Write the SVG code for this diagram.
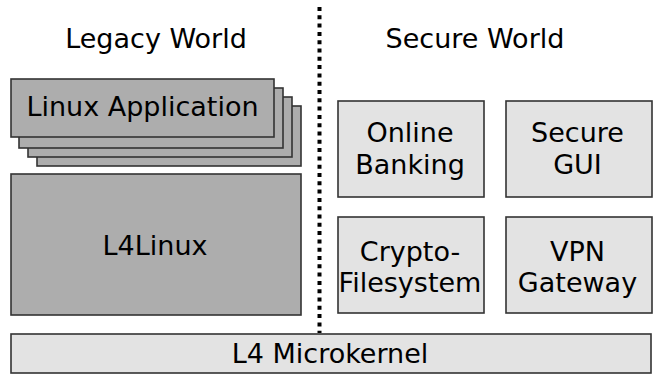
<svg xmlns="http://www.w3.org/2000/svg" width="653" height="375" viewBox="0 0 653 375">
<style>
.dark{fill:#adadad;stroke:#333;stroke-width:1.6}
.light{fill:#e3e3e3;stroke:#333;stroke-width:1.6}
text{font-family:"DejaVu Sans",sans-serif;font-size:27px;fill:#000;text-anchor:middle}
</style>
<rect width="653" height="375" fill="#fff"/>
<g id="labels">
<text x="156" y="48">Legacy World</text>
<text x="475" y="48">Secure World</text>
</g>
<g id="connectors">
<line x1="319.5" y1="7" x2="319.5" y2="333" stroke="#000" stroke-width="4" stroke-dasharray="4 4.3"/>
</g>
<g id="linux-app">
<rect class="dark" x="37" y="106" width="264" height="60"/>
<rect class="dark" x="28" y="97" width="264" height="60"/>
<rect class="dark" x="19" y="88" width="264" height="60"/>
<rect class="dark" x="11" y="79" width="263" height="58"/>
<text x="142.5" y="116">Linux Application</text>
</g>
<g id="l4linux">
<rect class="dark" x="11" y="174" width="290" height="141"/>
<text x="155" y="255">L4Linux</text>
</g>
<g id="online-banking">
<rect class="light" x="338" y="101" width="146" height="96"/>
<text x="410" y="141.5">Online</text>
<text x="410" y="173.5">Banking</text>
</g>
<g id="secure-gui">
<rect class="light" x="506" y="101" width="146" height="96"/>
<text x="577.5" y="141.5">Secure</text>
<text x="577.5" y="173.5">GUI</text>
</g>
<g id="crypto-fs">
<rect class="light" x="338" y="217" width="146" height="96"/>
<text x="410" y="261">Crypto-</text>
<text x="410" y="292">Filesystem</text>
</g>
<g id="vpn-gateway">
<rect class="light" x="506" y="217" width="146" height="96"/>
<text x="577.5" y="261">VPN</text>
<text x="577.5" y="292">Gateway</text>
</g>
<g id="microkernel">
<rect class="light" x="11" y="334" width="640" height="39"/>
<text x="330" y="363">L4 Microkernel</text>
</g>
</svg>
